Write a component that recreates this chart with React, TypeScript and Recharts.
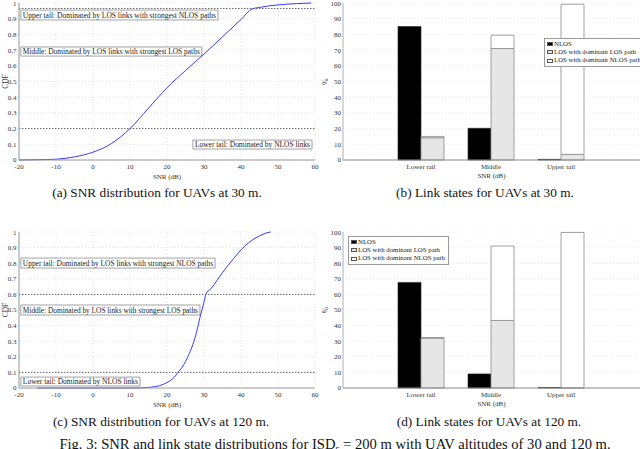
import React from 'react';
import {
  LineChart, Line, XAxis, YAxis, CartesianGrid, ReferenceLine, ReferenceArea,
  BarChart, Bar, Legend,
} from 'recharts';

// ---------- data ----------
const snrTicks = [-20, -10, 0, 10, 20, 30, 40, 50, 60];
const cdfTicks = [0, 0.1, 0.2, 0.3, 0.4, 0.5, 0.6, 0.7, 0.8, 0.9, 1];
const pctTicks = [0, 10, 20, 30, 40, 50, 60, 70, 80, 90, 100];

const snr30 = [-20, -15, -10, -5, 0, 5, 10, 15, 20, 25, 30, 35, 40, 43, 45, 50, 55, 59];
const cdf30 = [0, 0.002, 0.005, 0.02, 0.05, 0.105, 0.2, 0.33, 0.46, 0.57, 0.675, 0.785, 0.895, 0.962, 0.972, 0.988, 0.996, 1.0];

const snr120 = [-15, 10, 13, 15, 18, 20, 22, 23, 24, 25, 26, 27, 28, 29, 30, 30.5, 32, 35, 38, 40, 42, 45, 47, 48];
const cdf120 = [0, 0, 0.001, 0.004, 0.015, 0.035, 0.07, 0.1, 0.13, 0.17, 0.22, 0.28, 0.36, 0.46, 0.55, 0.6, 0.64, 0.74, 0.83, 0.885, 0.93, 0.975, 0.995, 1.0];

const thresholds30 = [0.2, 0.965];
const thresholds120 = [0.1, 0.6];

const regionTexts = [
  'Upper tail: Dominated by LOS links with strongest NLOS paths',
  'Middle: Dominated by LOS links with strongest LOS paths',
  'Lower tail: Dominated by NLOS links',
];

const categories = ['Lower tail', 'Middle', 'Upper tail'];
const seriesNames = ['NLOS', 'LOS with dominant LOS path', 'LOS with dominant NLOS path'];

const nlos30 = [85, 20.2, 0.4];
const losLos30 = [14.2, 71, 3.6];
const losNlos30 = [0.8, 8.5, 95.6];

const nlos120 = [67.7, 9, 0.3];
const losLos120 = [32, 43.3, 0.2];
const losNlos120 = [0.3, 47.7, 99.5];

// ---------- styles ----------
const serif = '"Liberation Serif", "Times New Roman", serif';
const tickStyle = { fontSize: 7, fill: '#333', fontFamily: serif };
const seriesFill = ['#000000', '#e6e6e6', '#ffffff'];
const seriesStroke = ['#222222', '#8a8a8a', '#8a8a8a'];

const boxLabel = (text: string) => (props: any) => {
  const vb = props.viewBox || { x: 0, y: 0, width: 0, height: 0 };
  return (
    <text
      x={vb.x + 2}
      y={vb.y + vb.height / 2 + 2.5}
      fontSize={7.3}
      fill="#222"
      fontFamily={serif}
      textLength={Math.max(vb.width - 4, 1)}
      lengthAdjust="spacingAndGlyphs"
    >
      {text}
    </text>
  );
};

const xLabel = (text: string, dy: number) => (props: any) => {
  const vb = props.viewBox || { x: 0, y: 0, width: 0, height: 0 };
  return (
    <text x={vb.x + vb.width / 2} y={vb.y + dy} textAnchor="middle" fontSize={7} fill="#333" fontFamily={serif}>
      {text}
    </text>
  );
};

const yLabel = (text: string, xPos: number) => (props: any) => {
  const vb = props.viewBox || { x: 0, y: 0, width: 0, height: 0 };
  const cx = vb.x + xPos;
  const cy = vb.y + vb.height / 2;
  return (
    <text
      x={cx}
      y={cy}
      transform={`rotate(-90, ${cx}, ${cy})`}
      textAnchor="middle"
      dominantBaseline="central"
      fontSize={7.5}
      fill="#333"
      fontFamily={serif}
    >
      {text}
    </text>
  );
};

type Box = { x1: number; x2: number; y1: number; y2: number; text: string };

function CdfChart(props: { top: number; height: number; xs: number[]; ys: number[]; thresholds: number[]; boxes: Box[] }) {
  const { top, height, xs, ys, thresholds, boxes } = props;
  const data = xs.map((x, i) => ({ snr: x, cdf: ys[i] }));
  return (
    <div style={{ position: 'absolute', left: 0, top }}>
      <LineChart width={320} height={height} data={data} margin={{ top: 3, right: 5, left: 0, bottom: 0 }}>
        <CartesianGrid stroke="#d8d8d8" strokeDasharray="1 2" strokeWidth={0.7} />
        <XAxis
          dataKey="snr"
          type="number"
          domain={[-20, 60]}
          ticks={snrTicks}
          interval={0}
          allowDataOverflow
          height={25}
          tickLine={false}
          tickSize={0}
          tickMargin={4.5}
          tick={tickStyle}
          axisLine={{ stroke: '#9a9a9a' }}
          label={xLabel('SNR (dB)', 18.5)}
        />
        <XAxis xAxisId="top" orientation="top" type="number" domain={[-20, 60]} height={0} tick={false} tickLine={false} axisLine={{ stroke: '#9a9a9a' }} />
        <YAxis
          type="number"
          domain={[0, 1]}
          ticks={cdfTicks}
          interval={0}
          width={19}
          tickLine={false}
          tickSize={0}
          tickMargin={2.5}
          tick={tickStyle}
          axisLine={{ stroke: '#9a9a9a' }}
          label={yLabel('CDF', 5.5)}
        />
        <YAxis yAxisId="right" orientation="right" type="number" domain={[0, 1]} width={0} tick={false} tickLine={false} axisLine={{ stroke: '#9a9a9a' }} />
        {thresholds.map((t) => (
          <ReferenceLine key={t} y={t} stroke="#444" strokeDasharray="1.5 1.5" strokeWidth={0.8} />
        ))}
        {boxes.map((b, i) => (
          <ReferenceArea
            key={i}
            x1={b.x1}
            x2={b.x2}
            y1={b.y1}
            y2={b.y2}
            fill="#ffffff"
            fillOpacity={1}
            stroke="#8a8a8a"
            strokeWidth={0.8}
            ifOverflow="visible"
            label={boxLabel(b.text)}
          />
        ))}
        <Line dataKey="cdf" type="monotone" stroke="#3838ff" strokeWidth={1} dot={false} isAnimationActive={false} />
      </LineChart>
    </div>
  );
}

const legendContent = () => (
  <div
    style={{
      border: '1px solid #9a9a9a',
      background: '#fff',
      padding: '1px 3px 1px 2px',
      fontFamily: serif,
      fontSize: 6.8,
      lineHeight: '8.2px',
      color: '#222',
      whiteSpace: 'nowrap',
    }}
  >
    {seriesNames.map((n, i) => (
      <div key={n} style={{ display: 'flex', alignItems: 'center' }}>
        <span
          style={{
            display: 'inline-block',
            width: 6,
            height: 4,
            background: seriesFill[i],
            border: '0.6px solid #555',
            marginRight: 1,
            boxSizing: 'border-box',
          }}
        />
        {n}
      </div>
    ))}
  </div>
);

function LinkChart(props: { top: number; height: number; nlos: number[]; losLos: number[]; losNlos: number[]; legendLeft: number; legendTop: number }) {
  const { top, height, nlos, losLos, losNlos, legendLeft, legendTop } = props;
  const data = categories.map((c, i) => ({ cat: c, nlos: nlos[i], losLos: losLos[i], losNlos: losNlos[i] }));
  return (
    <div style={{ position: 'absolute', left: 320, top }}>
      <BarChart width={320} height={height} data={data} margin={{ top: 3, right: 0, left: 0, bottom: 0 }} barGap={0} barSize={23}>
        <CartesianGrid vertical={false} stroke="#e0e0e0" strokeDasharray="1 2" strokeWidth={0.7} />
        <XAxis
          dataKey="cat"
          padding={{ left: 43, right: 44 }}
          interval={0}
          height={25}
          tickLine={false}
          tickSize={0}
          tickMargin={4.5}
          tick={tickStyle}
          axisLine={{ stroke: '#8a8a8a' }}
          label={xLabel('SNR (dB)', 17.5)}
        />
        <YAxis
          type="number"
          domain={[0, 100]}
          ticks={pctTicks}
          interval={0}
          width={23}
          tickLine={false}
          tickSize={0}
          tickMargin={2}
          tick={tickStyle}
          axisLine={{ stroke: '#b0b0b0' }}
          label={yLabel('%', 5.5)}
        />
        <Legend
          layout="vertical"
          align="center"
          verticalAlign="middle"
          content={legendContent}
          wrapperStyle={{ left: legendLeft, top: legendTop, width: 'auto', height: 'auto' }}
        />
        <Bar dataKey="nlos" name={seriesNames[0]} stackId="a" fill={seriesFill[0]} stroke={seriesStroke[0]} strokeWidth={0.6} isAnimationActive={false} />
        <Bar dataKey="losLos" name={seriesNames[1]} stackId="b" fill={seriesFill[1]} stroke={seriesStroke[1]} strokeWidth={0.8} isAnimationActive={false} />
        <Bar dataKey="losNlos" name={seriesNames[2]} stackId="b" fill={seriesFill[2]} stroke={seriesStroke[2]} strokeWidth={0.8} isAnimationActive={false} />
      </BarChart>
    </div>
  );
}

const captionStyle = (cx: number, top: number, size = 13.3): React.CSSProperties => ({
  position: 'absolute',
  left: cx - 350,
  width: 700,
  top,
  textAlign: 'center',
  fontFamily: serif,
  fontSize: size,
  lineHeight: `${size}px`,
  color: '#111',
  whiteSpace: 'nowrap',
});

export default function App() {
  const boxes30: Box[] = [
    { x1: -19.5, x2: 33.8, y1: 0.892, y2: 0.955, text: regionTexts[0] },
    { x1: -19.5, x2: 29.4, y1: 0.662, y2: 0.72, text: regionTexts[1] },
    { x1: 27.0, x2: 59.2, y1: 0.07, y2: 0.127, text: regionTexts[2] },
  ];
  const boxes120: Box[] = [
    { x1: -19.5, x2: 33.0, y1: 0.769, y2: 0.833, text: regionTexts[0] },
    { x1: -19.5, x2: 28.9, y1: 0.468, y2: 0.532, text: regionTexts[1] },
    { x1: -19.5, x2: 12.7, y1: 0.013, y2: 0.07, text: regionTexts[2] },
  ];
  return (
    <div style={{ position: 'fixed', left: 0, top: 0, width: 640, height: 449, overflow: 'hidden', background: '#fff' }}>
      <CdfChart top={0} height={185} xs={snr30} ys={cdf30} thresholds={thresholds30} boxes={boxes30} />
      <LinkChart top={0} height={185} nlos={nlos30} losLos={losLos30} losNlos={losNlos30} legendLeft={224} legendTop={38} />
      <CdfChart top={229} height={184} xs={snr120} ys={cdf120} thresholds={thresholds120} boxes={boxes120} />
      <LinkChart top={229} height={184} nlos={nlos120} losLos={losLos120} losNlos={losNlos120} legendLeft={28} legendTop={7} />

      <div style={captionStyle(157, 186.4)}>(a) SNR distribution for UAVs at 30 m.</div>
      <div style={captionStyle(485, 186.4)}>(b) Link states for UAVs at 30 m.</div>
      <div style={captionStyle(161, 415.4)}>(c) SNR distribution for UAVs at 120 m.</div>
      <div style={captionStyle(489, 415.4)}>(d) Link states for UAVs at 120 m.</div>
      <div style={captionStyle(335, 436.8, 14.6)}>
        Fig. 3: SNR and link state distributions for ISD
        <span style={{ fontSize: '0.7em', verticalAlign: '-0.3em', lineHeight: 0 }}>s</span> = 200 m with UAV altitudes of 30 and 120 m.
      </div>
    </div>
  );
}
